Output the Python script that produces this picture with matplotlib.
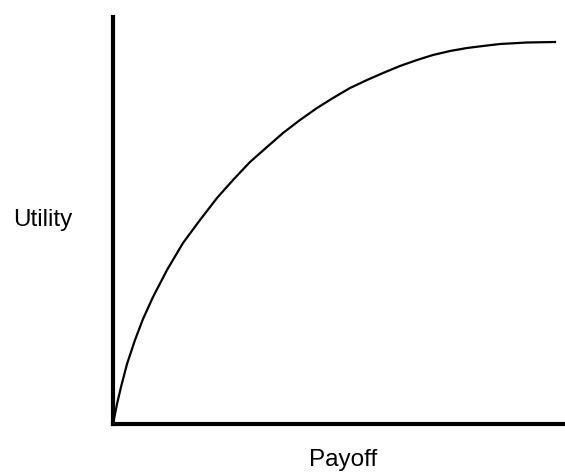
import matplotlib.pyplot as plt

# utility curve (pixels from the origin)
payoff = [0, 4, 8, 14, 22, 30, 40, 54, 70, 87, 104, 120, 137, 154, 170, 187,
          204, 220, 237, 254, 270, 287, 304, 320, 337, 354, 370, 387, 414, 442]
utility = [0, 20, 37, 60, 84, 105, 127, 154, 181, 204, 226, 244, 262, 277, 291, 304,
           316, 326, 336, 344, 351, 358, 364, 369, 373, 376, 378, 380, 381.5, 382]

x_label = 'Payoff'
y_label = 'Utility'

plt.rcParams['font.family'] = ['Liberation Sans', 'DejaVu Sans']

fig = plt.figure(figsize=(5.65, 4.72), dpi=100)
ax = fig.add_axes([113 / 565, 48 / 472, 452 / 565, 407 / 472])

ax.plot(payoff, utility, color='black', linewidth=1.6, solid_joinstyle='round')
ax.set_xlim(0, 452)
ax.set_ylim(0, 407)

ax.spines['top'].set_visible(False)
ax.spines['right'].set_visible(False)
for s in ['left', 'bottom']:
    ax.spines[s].set_linewidth(3)
    ax.spines[s].set_capstyle('projecting')
ax.set_xticks([])
ax.set_yticks([])

fig.text(42.7 / 565, (472 - 226) / 472, y_label, ha='center', va='baseline', fontsize=17.5)
fig.text(343.5 / 565, 6 / 472, x_label, ha='center', va='baseline', fontsize=17.5)

fig.savefig('out.png', dpi=100)
